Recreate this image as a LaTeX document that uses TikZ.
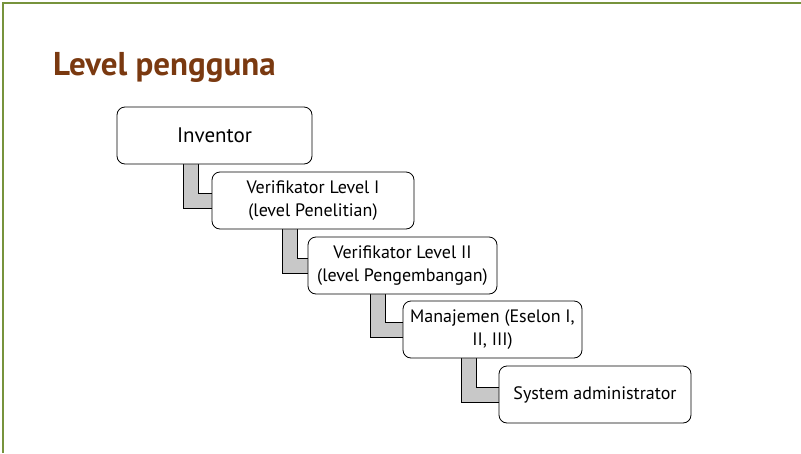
\documentclass[tikz,border=0pt]{standalone}
\usepackage{fontspec}
\setmainfont{PT Sans}
\usepackage{tikz}
\usetikzlibrary{positioning,calc,backgrounds}
\definecolor{titlebrown}{RGB}{122,57,16}
\definecolor{framegreen}{RGB}{119,147,60}
\definecolor{bargray}{RGB}{200,200,200}

\begin{document}
\begin{tikzpicture}[
    x=1pt, y=-1pt,
    level/.style={rectangle, draw, thick, rounded corners=8pt, fill=white, minimum height=57pt, align=center, inner sep=2pt, font=\fontsize{18}{23}\selectfont},
    link/.style={draw=black, line width=1pt, double=bargray, double distance=14pt, line join=miter}
]
    \useasboundingbox (0,0) rectangle (801,453);
    \draw[framegreen, line width=1.5pt] (3,453) -- (3,3) -- (801,3);

    \node[anchor=base west, font=\fontsize{33}{36}\selectfont\bfseries, text=titlebrown, inner sep=0pt] (title) at (53,75) {Level pengguna};

    \node[level, minimum width=195pt, font=\fontsize{21}{24}\selectfont] (inventor) at (214.5,135.5) {Inventor};
    \node[level, minimum width=202pt] (verif1) at (313,200.5) {Verifikator Level I\\(level Penelitian)};
    \node[level, minimum width=189pt] (verif2) at (402.5,265.5) {Verifikator Level II\\(level Pengembangan)};
    \node[level, minimum width=179pt] (manajemen) at (492.5,329.5) {Manajemen (Eselon I,\\II, III)};
    \node[level, minimum width=192pt] (sysadmin) at (595,394.5) {System administrator};

    \begin{scope}[on background layer]
        \draw[link] ($(inventor.south west)+(74,0)$) |- (verif1.west);
        \draw[link] ($(verif1.south west)+(78,0)$) |- (verif2.west);
        \draw[link] ($(verif2.south west)+(70,0)$) |- (manajemen.west);
        \draw[link] ($(manajemen.south west)+(66,0)$) |- (sysadmin.west);
    \end{scope}
\end{tikzpicture}
\end{document}
